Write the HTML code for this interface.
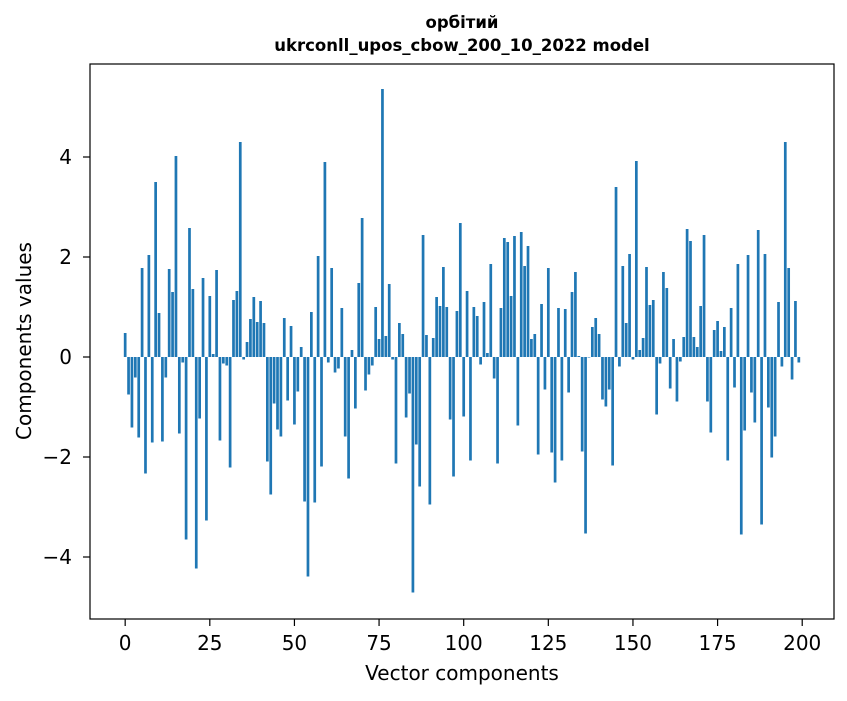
<!DOCTYPE html>
<html><head><meta charset="utf-8"><style>
body{margin:0;background:#fff;}
svg text{font-family:"DejaVu Sans","Liberation Sans",sans-serif;fill:#000;}
</style></head><body>
<svg id="chart" width="847" height="696" xmlns="http://www.w3.org/2000/svg">
<rect width="847" height="696" fill="#fff"/>
<text x="462" y="28" text-anchor="middle" font-size="16.5" font-weight="bold">орбітий</text>
<text x="462" y="51" text-anchor="middle" font-size="16.5" font-weight="bold">ukrconll_upos_cbow_200_10_2022 model</text>
<g id="bars"></g>
<g id="axes"></g>
<text x="462" y="680" text-anchor="middle" font-size="20">Vector components</text>
<text x="31" y="341" text-anchor="middle" font-size="20" transform="rotate(-90 31 341)">Components values</text>
</svg>
<script>
const values = [0.48,-0.75,-1.41,-0.41,-1.61,1.78,-2.33,2.04,-1.71,3.5,
0.88,-1.69,-0.41,1.76,1.3,4.02,-1.53,-0.11,-3.65,2.58,
1.36,-4.23,-1.23,1.58,-3.27,1.22,0.06,1.74,-1.67,-0.13,
-0.17,-2.21,1.14,1.32,4.3,-0.05,0.3,0.76,1.2,0.7,
1.12,0.68,-2.09,-2.75,-0.93,-1.45,-1.59,0.78,-0.87,0.62,
-1.35,-0.69,0.2,-2.89,-4.39,0.9,-2.91,2.02,-2.19,3.9,
-0.11,1.78,-0.31,-0.23,0.98,-1.59,-2.43,0.14,-1.03,1.48,
2.78,-0.67,-0.35,-0.17,1.0,0.36,5.36,0.42,1.46,-0.05,
-2.13,0.68,0.46,-1.21,-0.73,-4.71,-1.75,-2.59,2.44,0.44,
-2.95,0.38,1.2,1.02,1.8,1.0,-1.25,-2.39,0.92,2.68,
-1.19,1.32,-2.07,1.0,0.82,-0.15,1.1,0.08,1.86,-0.43,
-2.13,0.98,2.38,2.3,1.22,2.42,-1.37,2.5,1.82,2.22,
0.36,0.46,-1.95,1.06,-0.65,1.78,-1.91,-2.51,0.98,-2.07,
0.96,-0.71,1.3,1.7,0.02,-1.89,-3.53,-0.01,0.6,0.78,
0.46,-0.85,-0.99,-0.65,-2.17,3.4,-0.19,1.82,0.68,2.06,
-0.05,3.92,0.14,0.38,1.8,1.04,1.14,-1.15,-0.13,1.7,
1.38,-0.63,0.36,-0.89,-0.09,0.4,2.56,2.32,0.4,0.2,
1.02,2.44,-0.89,-1.51,0.54,0.72,0.12,0.6,-2.07,0.98,
-0.61,1.86,-3.55,-1.47,2.04,-0.71,-1.31,2.54,-3.35,2.06,
-1.01,-2.01,-1.59,1.1,-0.19,4.3,1.78,-0.45,1.12,-0.11];
const xTicks = [0,25,50,75,100,125,150,175,200];
const yTicks = [-4,-2,0,2,4];
const yTickLabels = ["\u22124","\u22122","0","2","4"];

const L=90,R=834,T=64,B=619;
const xmin=-10.39,xmax=209.39,ymin=-5.24,ymax=5.86;
const xs=v=>L+(v-xmin)/(xmax-xmin)*(R-L);
const ys=v=>B-(v-ymin)/(ymax-ymin)*(B-T);
const NS="http://www.w3.org/2000/svg";
const bars=document.getElementById('bars');
values.forEach((v,i)=>{
  const r=document.createElementNS(NS,'rect');
  const x0=xs(i-0.4),x1=xs(i+0.4);
  const y0=ys(Math.max(v,0)),y1=ys(Math.min(v,0));
  r.setAttribute('x',x0);r.setAttribute('width',x1-x0);
  r.setAttribute('y',y0);r.setAttribute('height',Math.max(y1-y0,0.3));
  r.setAttribute('fill','#1f77b4');
  
  
  bars.appendChild(r);
});
const axes=document.getElementById('axes');
const frame=document.createElementNS(NS,'rect');
frame.setAttribute('x',L);frame.setAttribute('y',T);frame.setAttribute('width',R-L);frame.setAttribute('height',B-T);
frame.setAttribute('fill','none');frame.setAttribute('stroke','#000');frame.setAttribute('stroke-width','1.2');


axes.appendChild(frame);
xTicks.forEach(t=>{
  const x=xs(t);
  const l=document.createElementNS(NS,'line');
  l.setAttribute('x1',x);l.setAttribute('x2',x);l.setAttribute('y1',B);l.setAttribute('y2',B+7);l.setAttribute('stroke','#000');l.setAttribute('stroke-width','1.2');
  
  
  axes.appendChild(l);
  const tx=document.createElementNS(NS,'text');
  tx.setAttribute('x',x);tx.setAttribute('y',650);tx.setAttribute('text-anchor','middle');tx.setAttribute('font-size','20');
  tx.textContent=t;
  
  
  axes.appendChild(tx);
});
yTicks.forEach((t,i)=>{
  const y=ys(t);
  const l=document.createElementNS(NS,'line');
  l.setAttribute('x1',L-7);l.setAttribute('x2',L);l.setAttribute('y1',y);l.setAttribute('y2',y);l.setAttribute('stroke','#000');l.setAttribute('stroke-width','1.2');
  
  
  axes.appendChild(l);
  const tx=document.createElementNS(NS,'text');
  tx.setAttribute('x',72);tx.setAttribute('y',y+7);tx.setAttribute('text-anchor','end');tx.setAttribute('font-size','20');
  tx.textContent=yTickLabels[i];
  
  
  axes.appendChild(tx);
});
</script>
</body></html>
